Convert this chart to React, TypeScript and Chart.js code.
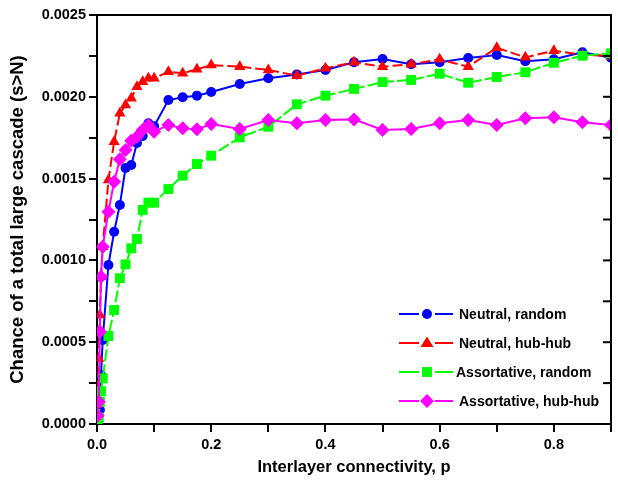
import React, { useEffect, useRef } from "react";
import { Chart, registerables } from "chart.js";

Chart.register(...registerables);

const pValues = [0.001, 0.003, 0.005, 0.007, 0.01, 0.02, 0.03, 0.04, 0.05, 0.06, 0.07, 0.08, 0.09, 0.1, 0.125, 0.15, 0.175, 0.2, 0.25, 0.3, 0.35, 0.4, 0.45, 0.5, 0.55, 0.6, 0.65, 0.7, 0.75, 0.8, 0.85, 0.9];

const neutralRandom = [0.00002, 0.00005, 0.000086, 0.0003, 0.000513, 0.000972, 0.001175, 0.001339, 0.001565, 0.001583, 0.001718, 0.00176, 0.001838, 0.00182, 0.00198, 0.001997, 0.002007, 0.002029, 0.002078, 0.002113, 0.002137, 0.002164, 0.002211, 0.002231, 0.002199, 0.002211, 0.002237, 0.002256, 0.002217, 0.002229, 0.002272, 0.002239];

const neutralHubHub = [0.00012, 0.0004, 0.000666, 0.0009, 0.001084, 0.001491, 0.001726, 0.001899, 0.00195, 0.001991, 0.002062, 0.002092, 0.002113, 0.002113, 0.002153, 0.002144, 0.002168, 0.002194, 0.002184, 0.002164, 0.002129, 0.002174, 0.002211, 0.002184, 0.002199, 0.002229, 0.002184, 0.0023, 0.002241, 0.002282, 0.002256, 0.00225];

const assortativeRandom = [0.00002, 0.00004, 0.000136, 0.0002, 0.000279, 0.000538, 0.000697, 0.000891, 0.000976, 0.001074, 0.001131, 0.001308, 0.001353, 0.001353, 0.001436, 0.001518, 0.001589, 0.00164, 0.001752, 0.001817, 0.001954, 0.002007, 0.002048, 0.00209, 0.002103, 0.002141, 0.002086, 0.002121, 0.00215, 0.002208, 0.002251, 0.002266];

const assortativeHubHub = [0.00005, 0.000136, 0.000564, 0.0009, 0.001084, 0.001298, 0.001481, 0.001618, 0.001675, 0.001732, 0.001756, 0.001797, 0.001828, 0.001787, 0.001828, 0.001807, 0.001801, 0.001834, 0.001803, 0.001858, 0.001838, 0.001858, 0.001862, 0.001797, 0.001803, 0.001838, 0.001858, 0.001828, 0.001869, 0.001875, 0.001844, 0.001828];

const seriesLabels = ["Neutral, random", "Neutral, hub-hub", "Assortative, random", "Assortative, hub-hub"];
const seriesColors = ["#0000FF", "#FF0000", "#00FF00", "#FF00FF"];
const seriesStyles = ["circle", "triangle", "rect", "rectRot"];
const seriesRadius = [5, 6.5, 7, 7];
const seriesDash: number[][] = [[], [10, 4], [12, 3], []];

const xTitle = "Interlayer connectivity, p";
const yTitle = "Chance of a total large cascade (s>N)";

const FONT = "'Liberation Sans', Arial, sans-serif";

function drawMarker(ctx: CanvasRenderingContext2D, style: string, x: number, y: number, r: number, color: string) {
  ctx.save();
  ctx.fillStyle = color;
  ctx.beginPath();
  if (style === "circle") {
    ctx.arc(x, y, r, 0, Math.PI * 2);
  } else if (style === "triangle") {
    ctx.moveTo(x, y - r);
    ctx.lineTo(x + r, y + r * 0.6);
    ctx.lineTo(x - r, y + r * 0.6);
  } else if (style === "rect") {
    const s = r * Math.SQRT1_2;
    ctx.rect(x - s, y - s, 2 * s, 2 * s);
  } else {
    ctx.moveTo(x, y - r);
    ctx.lineTo(x + r, y);
    ctx.lineTo(x, y + r);
    ctx.lineTo(x - r, y);
  }
  ctx.closePath();
  ctx.fill();
  ctx.restore();
}

const framePlugin = {
  id: "frameAndLegend",
  afterDraw(chart: any) {
    const { ctx, chartArea } = chart;
    const { left, right, top, bottom } = chartArea;
    ctx.save();
    ctx.strokeStyle = "#000";
    ctx.lineWidth = 2;
    ctx.beginPath();
    ctx.moveTo(left, top);
    ctx.lineTo(right, top);
    ctx.lineTo(right, bottom);
    ctx.stroke();
    const yScale = chart.scales.y;
    yScale.ticks.forEach((t: any) => {
      const py = yScale.getPixelForValue(t.value);
      ctx.beginPath();
      ctx.moveTo(right, py);
      ctx.lineTo(right - 8, py);
      ctx.stroke();
    });
    const rows = [314, 343, 372, 401];
    const textX = [459, 459, 456, 459];
    for (let i = 0; i < 4; i++) {
      const y = rows[i];
      ctx.strokeStyle = seriesColors[i];
      ctx.lineWidth = 2;
      ctx.beginPath();
      ctx.moveTo(399, y);
      ctx.lineTo(419, y);
      ctx.moveTo(435, y);
      ctx.lineTo(453, y);
      ctx.stroke();
      drawMarker(ctx, seriesStyles[i], 427, y, seriesRadius[i], seriesColors[i]);
      ctx.fillStyle = "#000";
      ctx.font = `bold 14px ${FONT}`;
      ctx.textBaseline = "middle";
      ctx.textAlign = "left";
      ctx.fillText(seriesLabels[i], textX[i], y + 1);
    }
    ctx.restore();
  },
};

export default function App() {
  const canvasRef = useRef<HTMLCanvasElement | null>(null);

  useEffect(() => {
    const canvas = canvasRef.current;
    if (!canvas) return;
    const allSeries = [neutralRandom, neutralHubHub, assortativeRandom, assortativeHubHub];
    const datasets = allSeries.map((vals, i) => ({
      label: seriesLabels[i],
      data: pValues.map((p, j) => ({ x: p, y: vals[j] })),
      borderColor: seriesColors[i],
      backgroundColor: seriesColors[i],
      borderWidth: 2,
      borderDash: seriesDash[i],
      pointStyle: seriesStyles[i] as any,
      pointRadius: seriesRadius[i],
      pointBorderWidth: 0,
      pointBackgroundColor: seriesColors[i],
      pointBorderColor: seriesColors[i],
      showLine: true,
      fill: false,
      tension: 0,
      clip: 0,
      order: 4 - i,
    }));

    const chart = new Chart(canvas, {
      type: "scatter",
      data: { datasets },
      options: {
        animation: false,
        responsive: false,
        maintainAspectRatio: false,
        layout: { padding: { top: 15, right: 3, left: 0, bottom: 0 } },
        plugins: { legend: { display: false }, tooltip: { enabled: false } },
        scales: {
          x: {
            type: "linear",
            min: 0,
            max: 0.9,
            afterFit: (s: any) => { s.height = 63; },
            ticks: {
              stepSize: 0.1,
              autoSkip: false,
              maxRotation: 0,
              color: "#000",
              padding: 4,
              font: { family: FONT, size: 14.5, weight: "bold" },
              callback: (v: any, idx: number) => (idx % 2 === 0 && idx < 9 ? Number(v).toFixed(1) : ""),
            },
            grid: { drawOnChartArea: false, drawTicks: true, tickLength: 8, color: "#000", lineWidth: 2 },
            border: { display: true, color: "#000", width: 2 },
            title: {
              display: true,
              text: xTitle,
              color: "#000",
              font: { family: FONT, size: 16.5, weight: "bold" },
              padding: { top: 0, bottom: 10 },
            },
          },
          y: {
            type: "linear",
            min: 0,
            max: 0.0025,
            afterFit: (s: any) => { s.width = 97; },
            ticks: {
              stepSize: 0.00025,
              autoSkip: false,
              color: "#000",
              padding: 3,
              font: { family: FONT, size: 14.5, weight: "bold" },
              callback: (v: any, idx: number) => (idx % 2 === 0 ? Number(v).toFixed(4) : ""),
            },
            grid: { drawOnChartArea: false, drawTicks: true, tickLength: 8, color: "#000", lineWidth: 2 },
            border: { display: true, color: "#000", width: 2 },
            title: {
              display: true,
              text: yTitle,
              color: "#000",
              font: { family: FONT, size: 18.5, weight: "bold" },
              padding: { top: 7, bottom: 0 },
            },
          },
        },
      },
      plugins: [framePlugin],
    });
    return () => chart.destroy();
  }, []);

  return (
    <div style={{ position: "fixed", left: 0, top: 0, width: 618, height: 487, background: "#fff" }}>
      <canvas ref={canvasRef} width={618} height={487} style={{ width: 618, height: 487 }} />
    </div>
  );
}
